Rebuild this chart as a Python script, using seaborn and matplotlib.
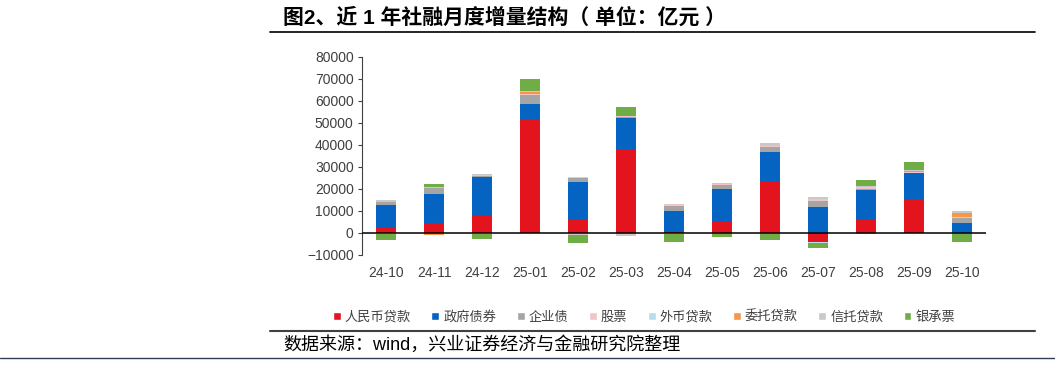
import numpy as np
import matplotlib
matplotlib.use("Agg")
import matplotlib.pyplot as plt
from matplotlib.patches import Patch
from matplotlib.lines import Line2D
import seaborn as sns

# Monthly increments by component (100 million yuan)
months = ["24-10", "24-11", "24-12", "25-01", "25-02", "25-03", "25-04",
          "25-05", "25-06", "25-07", "25-08", "25-09", "25-10"]
rmb_loans = [2400, 4500, 7900, 51700, 6100, 37700, 400, 5300, 23100, -4200, 5900, 15400, 0]
gov_bonds = [10500, 13200, 17500, 7000, 16900, 14800, 9700, 14500, 13500, 12000, 13500, 12000, 4500]
corp_bonds = [1000, 2600, 500, 4200, 1800, 400, 2100, 2100, 2600, 2700, 700, 100, 2400]
equity = [300, 300, 300, 500, 500, 200, 900, 200, 300, 600, 900, 400, 600]
fx_loans = [-300, -200, -400, -200, -300, -200, -300, -200, -100, -200, -100, -100, -200]
entrusted = [-100, -600, -100, 600, -100, -300, -100, 100, -100, 100, -500, 300, 1700]
trust = [600, 400, 500, 600, -300, -900, 300, 600, 1500, 800, 500, 300, 700]
bank_accept = [-2900, 1400, -2200, 5400, -4000, 4200, -3500, -1800, -2900, -2400, 2400, 3800, -3800]

series_names = ["人民币贷款", "政府债券", "企业债", "股票", "外币贷款", "委托贷款", "信托贷款", "银承票"]
series_vals = [rmb_loans, gov_bonds, corp_bonds, equity, fx_loans, entrusted, trust, bank_accept]
colors = ["#E3141E", "#0563C1", "#A5A5A5", "#F2C4C4", "#B7DEE8", "#F79646", "#C9C9C9", "#70AD47"]

sns.set_style("white")
plt.rcParams["font.family"] = ["Liberation Sans", "Noto Sans CJK SC", "DejaVu Sans"]
plt.rcParams["axes.unicode_minus"] = True

fig = plt.figure(figsize=(10.55, 3.7), dpi=100)
ax = fig.add_axes([362 / 1055, 1 - 255 / 370, 624 / 1055, 198 / 370])

x = np.arange(len(months))
pos_base = np.zeros(len(months))
neg_base = np.zeros(len(months))
for name, vals, c in zip(series_names, series_vals, colors):
    v = np.array(vals, dtype=float)
    bottom = np.where(v >= 0, pos_base, neg_base)
    ax.bar(x, v, bottom=bottom, width=0.42, color=c, linewidth=0)
    pos_base += np.where(v >= 0, v, 0)
    neg_base += np.where(v < 0, v, 0)

ax.axhline(0, color="black", lw=1.1, zorder=5)
ax.set_xlim(-0.5, 12.5)
ax.set_ylim(-10000, 80000)
ax.set_yticks(range(-10000, 80001, 10000))
ax.set_xticks(x)
ax.set_xticklabels(months)
ax.tick_params(axis="x", length=0, pad=8, labelsize=10, labelcolor="#404040")
ax.tick_params(axis="y", left=True, length=3, width=0.8, color="#404040",
               labelsize=10, labelcolor="#404040", pad=3)
for s in ["top", "right", "bottom"]:
    ax.spines[s].set_visible(False)
ax.spines["left"].set_color("#404040")
ax.spines["left"].set_linewidth(0.8)

handles = [Patch(facecolor=c, label=n) for n, c in zip(series_names, colors)]
fig.legend(handles=handles, loc="center", bbox_to_anchor=(644 / 1055, 1 - 317 / 370),
           ncol=8, frameon=False, fontsize=9.5, handlelength=0.6, handleheight=0.6,
           handletextpad=0.3, columnspacing=1.55, labelcolor="#404040")

fig.text(283 / 1055, 1 - 17 / 370, "图2、近 1 年社融月度增量结构（ 单位：亿元 ）",
         fontsize=15, fontweight="bold", va="center", ha="left", color="black")
fig.text(283 / 1055, 1 - 345 / 370, "数据来源：wind，兴业证券经济与金融研究院整理",
         fontsize=13, va="center", ha="left", color="black")

fig.add_artist(Line2D([270 / 1055, 1035 / 1055], [1 - 32 / 370] * 2, color="black", lw=1.2))
fig.add_artist(Line2D([270 / 1055, 1035 / 1055], [1 - 331 / 370] * 2, color="#404040", lw=1.5))
fig.add_artist(Line2D([0, 1], [1 - 358 / 370] * 2, color="#2F3E55", lw=1))

fig.savefig("out.png", dpi=100)
